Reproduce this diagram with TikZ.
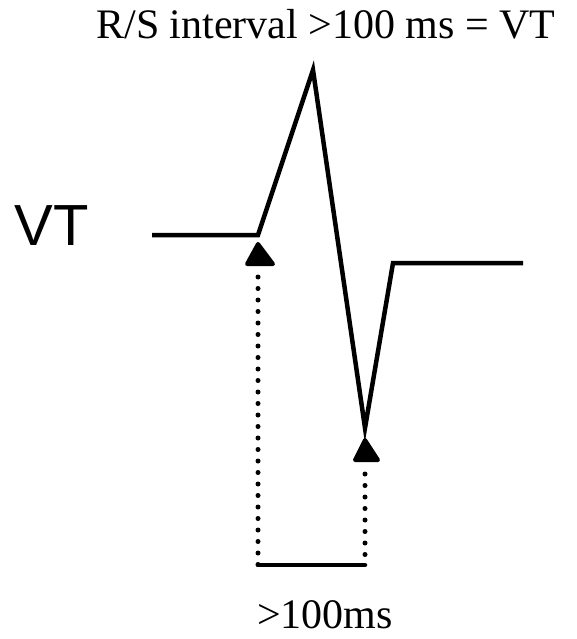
\documentclass[tikz,border=0pt]{standalone}
\usepackage{fontspec}
\setmainfont{Liberation Serif}
\newfontfamily\arialfont{Liberation Sans}
\begin{document}
\begin{tikzpicture}[x=1pt,y=-1pt,
  wave/.style={line width=4.5pt,line join=miter},
  dotline/.style={line width=5pt,line cap=round,dash pattern=on 0pt off 11.5pt},
  marker/.style={fill=black,draw=black,line width=4pt,line join=round,line cap=round},
  lbl/.style={inner sep=0pt,anchor=base}]
\useasboundingbox (0,0) rectangle (576,639);
\coordinate (w0) at (152,235);
\coordinate (w1) at (258,235);
\coordinate (w2) at (313,70);
\coordinate (w3) at (365,428);
\coordinate (w4) at (393,263);
\coordinate (w5) at (523,263);
\draw[wave] (w0) -- (w1) -- (w2) -- (w3) -- (w4) -- (w5);
\coordinate (a1) at (258,277);
\coordinate (b1) at (258,565);
\coordinate (a2) at (365,474);
\coordinate (b2) at (365,565);
\draw[dotline] (a1) -- (b1);
\draw[dotline] (a2) -- (b2);
\draw[line width=4.5pt,line cap=round] (b1) -- (b2);
\draw[marker] (258,244) -- (247,264) -- (273,264) -- cycle;
\draw[marker] (365,440) -- (355,460) -- (378,460) -- cycle;
\node[lbl,font=\fontsize{42}{48}\selectfont] (title) at (326,39) {R/S interval >100 ms = VT};
\node[lbl,font=\arialfont\fontsize{58}{66}\selectfont] (vt) at (52,245) {VT};
\node[lbl,font=\fontsize{42}{48}\selectfont] (ms) at (325,628) {>100ms};
\end{tikzpicture}
\end{document}
